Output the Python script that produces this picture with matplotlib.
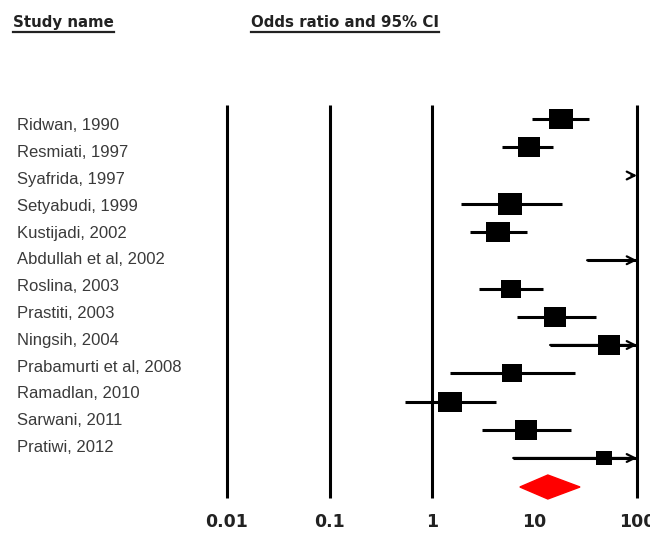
import numpy as np
import matplotlib
matplotlib.use("Agg")
import matplotlib.pyplot as plt
from matplotlib.lines import Line2D
from matplotlib.patches import Polygon

studies = ["Ridwan, 1990", "Resmiati, 1997", "Syafrida, 1997", "Setyabudi, 1999",
           "Kustijadi, 2002", "Abdullah et al, 2002", "Roslina, 2003", "Prastiti, 2003",
           "Ningsih, 2004", "Prabamurti et al, 2008", "Ramadlan, 2010", "Sarwani, 2011",
           "Pratiwi, 2012"]
odds = [18.1, 8.8, 150.0, 5.8, 4.4, 200.0, 5.9, 15.9, 53.4, 6.0, 1.5, 8.3, 47.7]
lower = [9.5, 4.8, 110.0, 1.9, 2.35, 32.6, 2.9, 6.8, 14.2, 1.5, 0.54, 3.07, 6.2]
upper = [34.0, 15.1, 210.0, 18.5, 8.4, 1200.0, 12.1, 39.8, 200.0, 24.8, 4.2, 22.7, 370.0]
weights = [24, 23, 20, 25, 24, 20, 21, 23, 22, 20, 24, 22, 16]
pooled = (13.5, 7.2, 27.8)
ref_lines = [0.01, 0.1, 1, 100]
tick_vals = [0.01, 0.1, 1, 10, 100]
tick_labels = ["0.01", "0.1", "1", "10", "100"]

W, H = 650, 533
fig = plt.figure(figsize=(W / 100, H / 100), dpi=100)
ax = fig.add_axes([0, 0, 1, 1])
ax.set_xscale("log")
x0px, dec = 432.0, 102.5
ax.set_xlim(10 ** (-x0px / dec), 10 ** ((W - x0px) / dec))
y0px, rowpx = 119.0, 28.25
ax.set_ylim((H - y0px) / rowpx, -y0px / rowpx)
ax.axis("off")

# reference lines
top_row = (105 - y0px) / rowpx
bot_row = (498 - y0px) / rowpx
for v in ref_lines:
    ax.plot([v, v], [top_row, bot_row], color="black", lw=2.2, solid_capstyle="butt", zorder=1)

xmax = ref_lines[-1]
rect = [(-1.15, -1), (1.15, -1), (1.15, 1), (-1.15, 1), (-1.15, -1)]
for i, (o, lo, hi, w) in enumerate(zip(odds, lower, upper, weights)):
    lo_c = min(lo, xmax)
    hi_c = min(hi, xmax)
    if lo < xmax:
        ax.plot([lo_c, hi_c], [i, i], color="black", lw=2.2, solid_capstyle="butt", zorder=2)
    if hi > xmax:
        start = lo_c if lo < xmax else xmax * 0.88
        ax.annotate("", xy=(xmax, i), xytext=(start, i),
                    arrowprops=dict(arrowstyle="->", color="black", lw=1.6,
                                    mutation_scale=14, shrinkA=0, shrinkB=0),
                    zorder=3)
    if o < xmax:
        ax.plot([o], [i], marker=rect, markersize=w / 1.389, color="black", zorder=4,
                markeredgewidth=0)

# pooled diamond
yd = (487 - y0px) / rowpx
hd = 12 / rowpx
po, pl, ph = pooled
ax.add_patch(Polygon([(pl, yd), (po, yd - hd), (ph, yd), (po, yd + hd)],
                     closed=True, facecolor="#ff0000", edgecolor="#ff0000", zorder=4))

# tick labels
yt = (522 - y0px) / rowpx
for v, lab in zip(tick_vals, tick_labels):
    ax.text(v, yt, lab, ha="center", va="center", fontsize=12.5, fontweight="bold",
            color="#222222", family="DejaVu Sans")

# study labels
for i, s in enumerate(studies):
    ypx = 126 + 26.8 * i
    fig.text(17 / W, 1 - ypx / H, s, ha="left", va="center", fontsize=12,
             color="#3a3a3a", family="Liberation Sans")

# headers with underline
hdrs = [("Study name", 13, "left"), ("Odds ratio and 95% CI", 251, "left")]
texts = []
for s, xpx, ha in hdrs:
    t = fig.text(xpx / W, 1 - 22 / H, s, ha=ha, va="center", fontsize=10.8,
                 fontweight="bold", color="#222222", family="DejaVu Sans")
    texts.append(t)
fig.canvas.draw()
r = fig.canvas.get_renderer()
for t in texts:
    bb = t.get_window_extent(renderer=r)
    yline = 1 - 32 / H
    fig.add_artist(Line2D([bb.x0 / W, bb.x1 / W], [yline, yline], color="#222222", lw=1.6,
                          transform=fig.transFigure))

fig.savefig("out.png", dpi=100)
